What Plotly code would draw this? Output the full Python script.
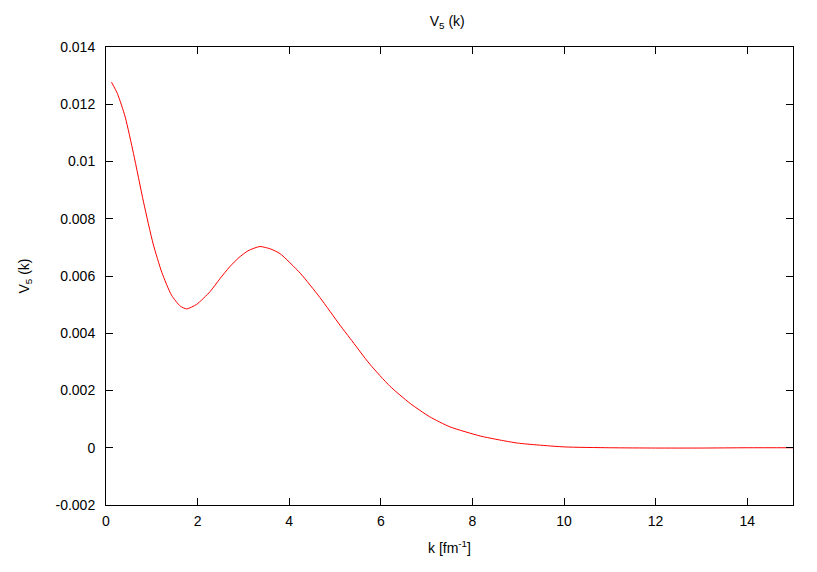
import plotly.graph_objects as go

###### data ##############################
k_vals = [0.12, 0.25, 0.42, 0.60, 0.82, 1.03, 1.22, 1.43, 1.62, 1.76, 1.98, 2.27,
          2.49, 2.70, 2.90, 3.10, 3.36, 3.60, 3.80, 4.24, 4.67, 5.11, 5.33, 5.76,
          6.20, 6.64, 7.07, 7.51, 8.17, 8.60, 9.0, 10.0, 11.0, 12.0, 13.0, 14.0, 15.0]
v5_vals = [0.01277, 0.01237, 0.01155, 0.01028, 0.00858, 0.00712, 0.00612, 0.00533,
           0.00495, 0.00485, 0.00501, 0.00545, 0.00591, 0.00632, 0.00664, 0.00688,
           0.00703, 0.00694, 0.00678, 0.00610, 0.00525, 0.00428, 0.00382, 0.00292,
           0.00215, 0.00155, 0.00108, 0.00073, 0.00041, 0.00027, 0.00016, 0.00003,
           0.0, -0.00001, -0.00001, 0.0, 0.0]

x_ticks = [0, 2, 4, 6, 8, 10, 12, 14]
y_ticks = [-0.002, 0, 0.002, 0.004, 0.006, 0.008, 0.01, 0.012, 0.014]
y_tick_text = ["-0.002", "0", "0.002", "0.004", "0.006", "0.008", "0.01", "0.012", "0.014"]

FONT = dict(family="Liberation Sans, Arial, sans-serif", size=14, color="black")

fig = go.Figure()
fig.add_trace(go.Scatter(
    x=k_vals, y=v5_vals, mode="lines",
    line=dict(color="#ff0000", width=1, shape="spline", smoothing=0.6),
    showlegend=False,
))

axis_common = dict(
    showgrid=False, zeroline=False, showline=True, linecolor="black", linewidth=1,
    mirror="ticks", ticks="inside", ticklen=7, tickcolor="black", tickwidth=1,
    tickfont=FONT,
)

# page body keeps its default 8px margin, so the figure is 8px smaller
fig.update_layout(
    width=809, height=564,
    margin=dict(l=98, r=24, t=39, b=67),
    paper_bgcolor="white", plot_bgcolor="white",
    font=FONT,
    title=dict(text="V<sub>5</sub> (k)", x=0.543, xanchor="center", y=0.977, yanchor="middle",
               font=FONT),
    xaxis=dict(range=[0, 15], tickvals=x_ticks, ticklabelstandoff=3,
               title=dict(text="k [fm<sup>-1</sup>]", font=FONT, standoff=15),
               **axis_common),
    yaxis=dict(range=[-0.002, 0.014], tickvals=y_ticks, ticktext=y_tick_text,
               ticklabelstandoff=7,
               title=dict(text="V<sub>5</sub> (k)", font=FONT, standoff=22),
               **axis_common),
)

fig.write_html("out.html")
